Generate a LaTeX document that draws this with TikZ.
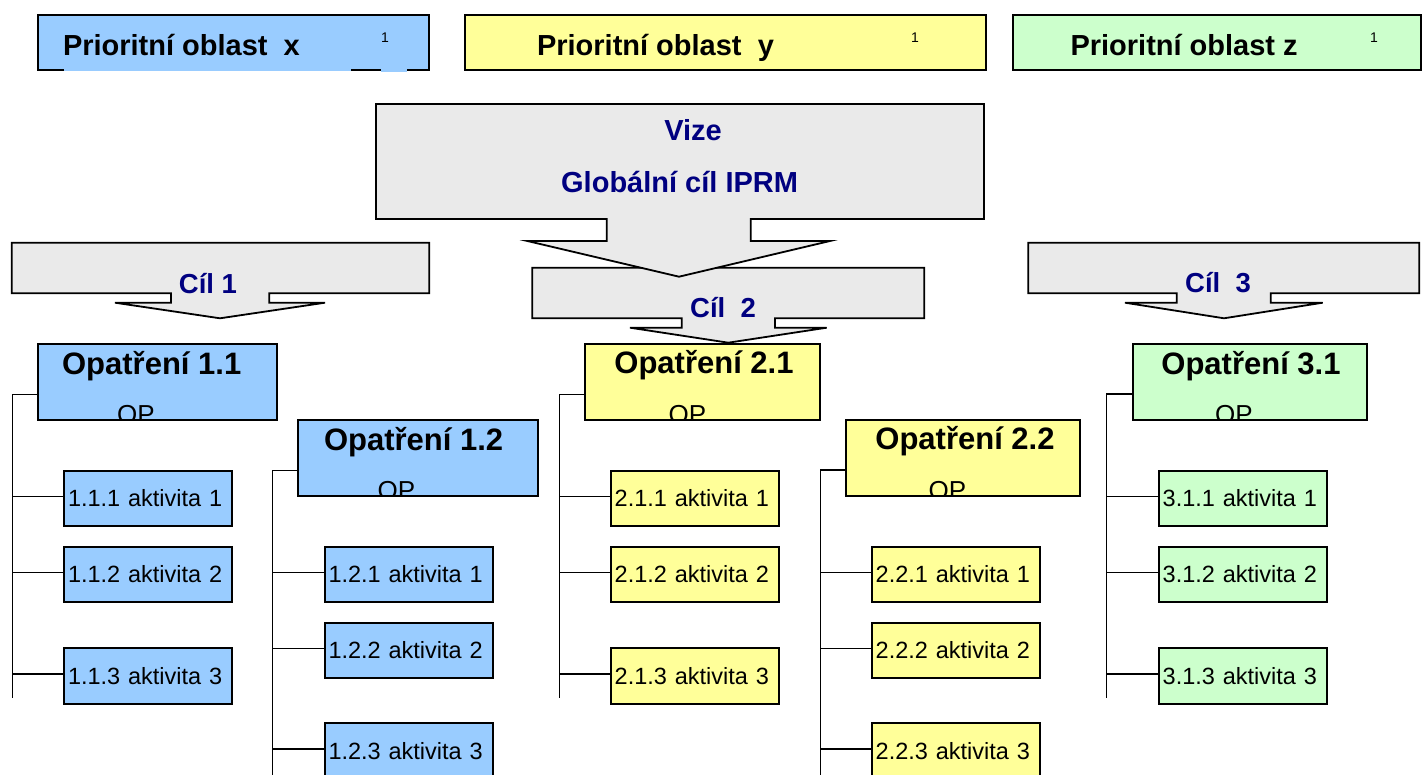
\documentclass[tikz,border=0pt]{standalone}
\usepackage{fontspec}
\setmainfont{Liberation Sans}
\usetikzlibrary{calc}
\definecolor{cblue}{HTML}{99CCFF}
\definecolor{cyel}{HTML}{FFFF99}
\definecolor{cgreen}{HTML}{CCFFCC}
\definecolor{cgray}{HTML}{EAEAEA}
\definecolor{cnavy}{HTML}{000080}
\begin{document}
\begin{tikzpicture}[x=1pt,y=-1pt,
  every node/.style={inner sep=0pt, outer sep=0pt},
  prio/.style={draw, line width=2.4pt, anchor=north west, minimum height=55pt},
  ptext/.style={anchor=base west, font=\fontsize{29}{34}\selectfont\bfseries},
  supone/.style={anchor=base, font=\fontsize{14}{16}\selectfont},
  calloutshape/.style={draw, line width=1.8pt, fill=cgray, line join=miter},
  ctext/.style={anchor=base, text=cnavy, font=\fontsize{27.5}{32}\selectfont\bfseries},
  vtext/.style={anchor=base, text=cnavy, font=\fontsize{29}{34}\selectfont\bfseries},
  opbox/.style={draw, line width=2pt, anchor=north west, minimum height=76pt},
  optitle/.style={anchor=base, font=\fontsize{31}{36}\selectfont\bfseries},
  optext/.style={anchor=base, font=\fontsize{26}{30}\selectfont},
  act/.style={draw, line width=2pt, anchor=north west, text width=160pt, inner xsep=4pt, minimum height=55.5pt, align=left, font=\fontsize{23.5}{28}\selectfont},
  conn/.style={line width=1.5pt}
]
\useasboundingbox (0,0) rectangle (1423,775);

% ---- priority areas
\node[prio, fill=cblue, minimum width=391pt] (px) at (38,15) {};
\node[prio, fill=cyel, minimum width=521pt] (py) at (465,15) {};
\node[prio, fill=cgreen, minimum width=408pt] (pz) at (1013,15) {};
\fill[cblue] (64,67.5) rectangle (351,71.4);
\fill[cblue] (381,67.5) rectangle (407,72);
\node[ptext] (tx) at (63,55.5) {Prioritní oblast\ \ x};
\node[ptext] (ty) at (537,55.5) {Prioritní oblast\ \ y};
\node[ptext] (tz) at (1070.5,55.5) {Prioritní oblast z};
\node[supone] (sx) at (385,43) {1};
\node[supone] (sy) at (915,43) {1};
\node[supone] (sz) at (1374,43) {1};

% ---- goal arrows
\draw[calloutshape] (11.7,242.7) -- (429.3,242.7) -- (429.3,293.3) -- (269.3,293.3) -- (269.3,302.7) -- (325,302.7) -- (220,318.3) -- (115,302.7) -- (171,302.7) -- (171,293.3) -- (11.7,293.3) -- cycle;
\node[ctext] (c1) at (208,293.3) {Cíl 1};

\draw[calloutshape] (1028.3,242.7) -- (1419.3,242.7) -- (1419.3,293.3) -- (1270.7,293.3) -- (1270.7,302.7) -- (1322.7,302.7) -- (1224,318.3) -- (1125,302.7) -- (1176.7,302.7) -- (1176.7,293.3) -- (1028.3,293.3) -- cycle;
\node[ctext] (c3) at (1218,292.7) {Cíl\ \ 3};

\draw[calloutshape] (532.3,267.7) -- (924.3,267.7) -- (924.3,318.3) -- (775,318.3) -- (775,327.7) -- (826.7,327.7) -- (728.3,342.7) -- (630,327.7) -- (681.7,327.7) -- (681.7,318.3) -- (532.3,318.3) -- cycle;
\node[ctext] (c2) at (723,317.3) {Cíl\ \ 2};

\draw[calloutshape] (376,104) -- (984,104) -- (984,219) -- (750.7,219) -- (750.7,241) -- (830,241) -- (679,276.7) -- (527.3,241) -- (606.7,241) -- (606.7,219) -- (376,219) -- cycle;
\node[vtext] (vize) at (693,140.6) {Vize};
\node[vtext] (glob) at (679.6,192.4) {Globální cíl IPRM};

% ---- measures
\node[opbox, fill=cblue, minimum width=239pt] (o11) at (37.7,344) {};
\node[opbox, fill=cblue, minimum width=239.5pt] (o12) at (298,420) {};
\node[opbox, fill=cyel, minimum width=235.3pt] (o21) at (585,344) {};
\node[opbox, fill=cyel, minimum width=234.3pt] (o22) at (845.7,420) {};
\node[opbox, fill=cgreen, minimum width=234.6pt] (o31) at (1132.7,344) {};

\node[optitle] (o11t) at (151.7,374) {Opatření 1.1};
\node[optitle] (o12t) at (413.6,450) {Opatření 1.2};
\node[optitle] (o21t) at (704,373.5) {Opatření 2.1};
\node[optitle] (o22t) at (965,449) {Opatření 2.2};
\node[optitle] (o31t) at (1251,374) {Opatření 3.1};

\begin{scope}
\clip ([yshift=1pt]o11.south west) rectangle (o11.north east);
\node[optext] (o11op) at (136,423.6) {OP};
\end{scope}
\begin{scope}
\clip ([yshift=1pt]o12.south west) rectangle (o12.north east);
\node[optext] (o12op) at (396.4,499.6) {OP};
\end{scope}
\begin{scope}
\clip ([yshift=1pt]o21.south west) rectangle (o21.north east);
\node[optext] (o21op) at (687.3,423.6) {OP};
\end{scope}
\begin{scope}
\clip ([yshift=1pt]o22.south west) rectangle (o22.north east);
\node[optext] (o22op) at (947.3,499.6) {OP};
\end{scope}
\begin{scope}
\clip ([yshift=1pt]o31.south west) rectangle (o31.north east);
\node[optext] (o31op) at (1234,423.6) {OP};
\end{scope}

% ---- activities
\node[act, fill=cblue] (a111) at (64,470.7) {1.1.1 aktivita 1};
\node[act, fill=cblue] (a112) at (64,546.7) {1.1.2 aktivita 2};
\node[act, fill=cblue] (a113) at (64,648.3) {1.1.3 aktivita 3};
\node[act, fill=cblue] (a121) at (324.5,546.7) {1.2.1 aktivita 1};
\node[act, fill=cblue] (a122) at (324.5,622.7) {1.2.2 aktivita 2};
\node[act, fill=cblue] (a123) at (324.5,723.3) {1.2.3 aktivita 3};
\node[act, fill=cyel] (a211) at (610.7,470.7) {2.1.1 aktivita 1};
\node[act, fill=cyel] (a212) at (610.7,546.7) {2.1.2 aktivita 2};
\node[act, fill=cyel] (a213) at (610.7,648.3) {2.1.3 aktivita 3};
\node[act, fill=cyel] (a221) at (871.7,546.7) {2.2.1 aktivita 1};
\node[act, fill=cyel] (a222) at (871.7,622.7) {2.2.2 aktivita 2};
\node[act, fill=cyel] (a223) at (871.7,723.3) {2.2.3 aktivita 3};
\node[act, fill=cgreen] (a311) at (1158.7,470.7) {3.1.1 aktivita 1};
\node[act, fill=cgreen] (a312) at (1158.7,546.7) {3.1.2 aktivita 2};
\node[act, fill=cgreen] (a313) at (1158.7,648.3) {3.1.3 aktivita 3};

% ---- connectors
\coordinate (t11) at (12.3,698);
\coordinate (t12) at (272.5,777);
\coordinate (t21) at (559.5,698);
\coordinate (t22) at (820.5,777);
\coordinate (t31) at (1106.7,698);

\draw[conn] ($(o11.north west)+(0,50.3)$) -| (t11);
\draw[conn] ($(o12.north west)+(0,50.7)$) -| (t12);
\draw[conn] ($(o21.north west)+(0,50.3)$) -| (t21);
\draw[conn] ($(o22.north west)+(0,50)$) -| (t22);
\draw[conn] ($(o31.north west)+(0,50)$) -| (t31);

\foreach \a/\t in {a111/t11,a112/t11,a113/t11,a121/t12,a122/t12,a123/t12,a211/t21,a212/t21,a213/t21,a221/t22,a222/t22,a223/t22,a311/t31,a312/t31,a313/t31}{
  \draw[conn] ([yshift=2pt]\a.west) -- ([yshift=2pt]\a.west -| \t);
}
\end{tikzpicture}
\end{document}
